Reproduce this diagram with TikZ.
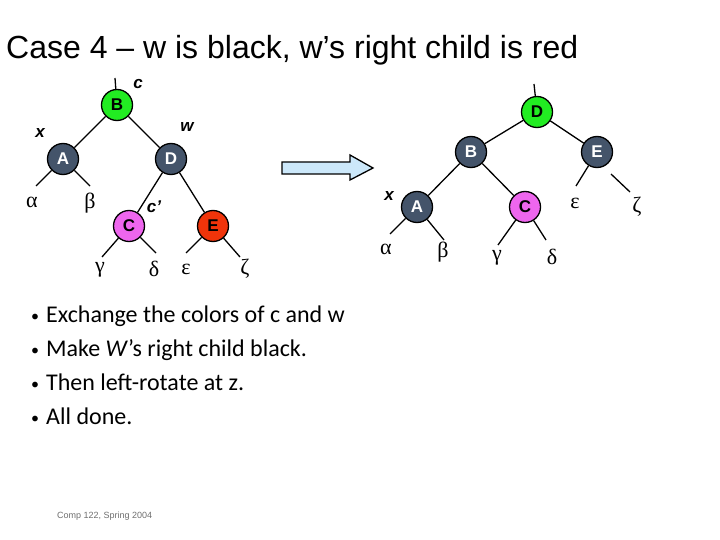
\documentclass[tikz,border=0pt]{standalone}
\usepackage{fontspec}
\usepackage{xcolor}
\setmainfont{Liberation Sans}
\newfontfamily\bodyfont{Carlito}
\newfontfamily\greekfont{Liberation Serif}
\definecolor{slate}{RGB}{68,84,106}
\definecolor{rootgreen}{RGB}{34,236,34}
\definecolor{pinknode}{RGB}{238,102,238}
\definecolor{rednode}{RGB}{240,52,10}
\definecolor{arrowblue}{RGB}{204,232,250}
\definecolor{footgray}{RGB}{110,110,110}
\newcommand{\bulmark}{\makebox[15pt][l]{\raisebox{1pt}{\fontsize{16}{16}\selectfont•}}}

\begin{document}
\begin{tikzpicture}[x=1pt,y=-1pt,
  rb/.style={circle,draw,line width=1.3pt,minimum size=31pt,inner sep=0pt,font=\fontsize{17}{17}\selectfont\bfseries},
  blk/.style={rb,fill=slate,text=white},
  grn/.style={rb,fill=rootgreen},
  pnk/.style={rb,fill=pinknode},
  red/.style={rb,fill=rednode},
  lab/.style={font=\fontsize{17}{17}\selectfont\bfseries\itshape},
  sub/.style={font=\fontsize{22}{22}\greekfont},
  bul/.style={anchor=base west,inner sep=0pt,font=\fontsize{24}{24}\bodyfont},
  edge/.style={line width=1.3pt}]
\useasboundingbox (0,0) rectangle (720,540);

\node[anchor=base west,inner sep=0pt,font=\fontsize{32}{32}\selectfont] (title) at (6,59) {Case 4 – w is black, w’s right child is red};

% before
\node[grn] (B) at (117,105) {B};
\node[blk] (A) at (63,159) {A};
\node[blk] (D) at (171,159) {D};
\node[pnk] (C) at (129,226) {C};
\node[red] (E) at (213,226) {E};
\coordinate (topL) at (115,78);
\coordinate (la) at (36,186);
\coordinate (lb) at (90,186);
\coordinate (lg) at (102,257);
\coordinate (ld) at (156,253);
\coordinate (le) at (186,253);
\coordinate (lz) at (240,257);
\draw[edge] (topL) -- (B) (B) -- (A) (B) -- (D) (D) -- (C) (D) -- (E)
  (A) -- (la) (A) -- (lb) (C) -- (lg) (C) -- (ld) (E) -- (le) (E) -- (lz);
\node[lab] (c) at (138,84) {c};
\node[lab] (x) at (40,133) {x};
\node[lab] (w) at (187,127) {w};
\node[lab] (cp) at (154,207) {c’};
\node[sub] (al) at (32,202) {α};
\node[sub] (be) at (90,203) {β};
\node[sub] (ga) at (100,270) {γ};
\node[sub] (de) at (154,269) {δ};
\node[sub] (ep) at (186,269) {ε};
\node[sub] (ze) at (245,269) {ζ};

% arrow
\draw[line width=1.3pt,fill=arrowblue,line join=miter]
  (282,162) -- (350,162) -- (350,155) -- (373,168) -- (350,180) -- (350,174) -- (282,174) -- cycle;

% after
\node[grn] (D2) at (537,112) {D};
\node[blk] (B2) at (471,152) {B};
\node[blk] (E2) at (597,152) {E};
\node[blk] (A2) at (417,207) {A};
\node[pnk] (C2) at (525,207) {C};
\coordinate (topR) at (534,84);
\coordinate (ra) at (390,234);
\coordinate (rb2) at (444,240);
\coordinate (rg) at (498,245);
\coordinate (rd) at (546,240);
\coordinate (re) at (576,186);
\coordinate (rz0) at (611,174);
\coordinate (rz) at (630,192);
\draw[edge] (topR) -- (D2) (D2) -- (B2) (D2) -- (E2) (B2) -- (A2) (B2) -- (C2)
  (A2) -- (ra) (A2) -- (rb2) (C2) -- (rg) (C2) -- (rd) (E2) -- (re) (rz0) -- (rz);
\node[lab] (x2) at (389,196) {x};
\node[sub] (al2) at (386,249) {α};
\node[sub] (be2) at (443,252) {β};
\node[sub] (ga2) at (497,258) {γ};
\node[sub] (de2) at (552,257) {δ};
\node[sub] (ep2) at (575,203) {ε};
\node[sub] (ze2) at (637,207) {ζ};

% text
\node[bul] (b1) at (31,322) {\bulmark Exchange the colors of c and w};
\node[bul] (b2) at (31,356) {\bulmark Make \textit{W}’s right child black.};
\node[bul] (b3) at (31,390) {\bulmark Then left-rotate at z.};
\node[bul] (b4) at (31,424) {\bulmark All done.};
\node[anchor=base west,inner sep=0pt,text=footgray,font=\fontsize{9}{9}\selectfont] (foot) at (57,518) {Comp 122, Spring 2004};
\end{tikzpicture}
\end{document}
